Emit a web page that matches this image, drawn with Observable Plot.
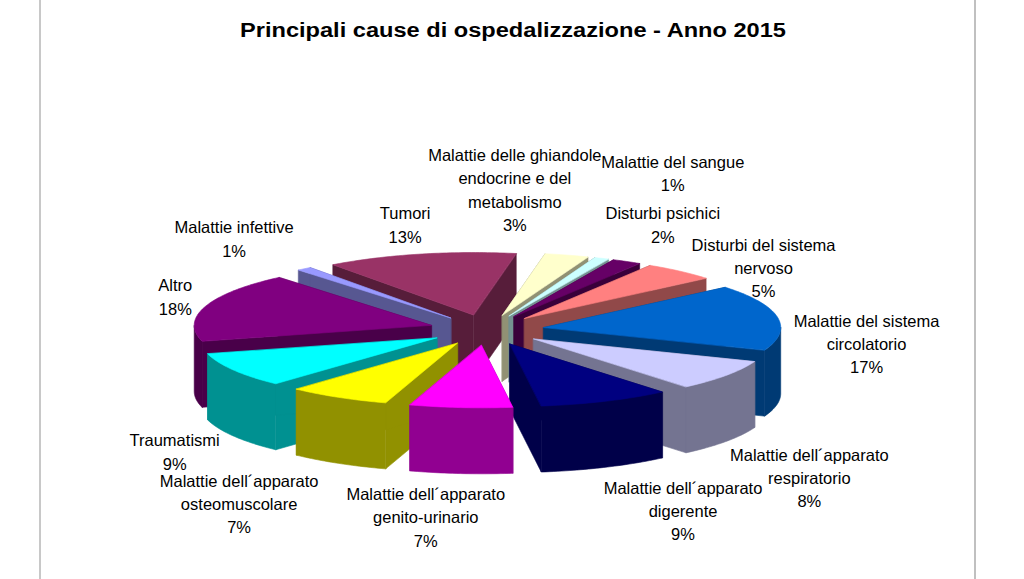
<!DOCTYPE html>
<html><head><meta charset="utf-8">
<script src="https://cdn.jsdelivr.net/npm/d3@7"></script>
<script src="https://cdn.jsdelivr.net/npm/@observablehq/plot@0.6"></script>
<style>
html,body{margin:0;padding:0;background:#fff;}
#wrap{position:relative;width:1024px;height:579px;overflow:hidden;font-family:"Liberation Sans",Arial,sans-serif;}
#frame{position:absolute;left:39px;top:0;width:933px;height:579px;border-left:2px solid #c8c8c8;border-right:2px solid #c0c0c0;box-sizing:content-box;}
#title{position:absolute;left:0;top:20px;width:1026px;text-align:center;font-weight:bold;font-size:20px;line-height:20px;color:#000;transform:scaleX(1.18);transform-origin:513px 0;}
#chart{position:absolute;left:0;top:0;}
</style></head>
<body><div id="wrap"><div id="frame"></div><div id="chart"></div><div id="title">Principali cause di ospedalizzazione - Anno 2015</div></div>
<script>
// ---- data ----
const categories = [
  "Malattie infettive",
  "Tumori",
  "Malattie delle ghiandole\nendocrine e del\nmetabolismo",
  "Malattie del sangue",
  "Disturbi psichici",
  "Disturbi del sistema\nnervoso",
  "Malattie del sistema\ncircolatorio",
  "Malattie dell´apparato\nrespiratorio",
  "Malattie dell´apparato\ndigerente",
  "Malattie dell´apparato\ngenito-urinario",
  "Malattie dell´apparato\nosteomuscolare",
  "Traumatismi",
  "Altro"
];
const values = [1, 13, 3, 1, 2, 5, 17, 8, 9, 7, 7, 9, 18];
const colors = ["#9999FF","#993366","#FFFFCC","#CCFFFF","#660066","#FF8080","#0066CC","#CCCCFF","#000080","#FF00FF","#FFFF00","#00FFFF","#800080"];

// ---- layout ----
const W = 1024, H = 579;
const cx = 486, cy = 329.5, R = 237, explode = 58, tilt = 0.264, depth = 66;
const firstAngle = -40 * Math.PI / 180;
const shade = 0.57;
// label placement relative to each slice's outer edge (pixels)
const labelShift = [[-70,-31.5],[-15,-30.6],[-52,-66.6],[71,-86.3],[36,-38],[83.5,-4.7],[89,25.2],[83,35.2],[77.5,42.2],[-35,42],[-99,39.2],[-59,14.4],[-30,-11]];

const arcs = d3.pie().sort(null).startAngle(firstAngle).endAngle(firstAngle + 2 * Math.PI)(values);
const dark = c => { const r = d3.rgb(c); return d3.rgb(r.r * shade, r.g * shade, r.b * shade).formatHex(); };

const faces = [];
let fid = 0;
function addFace(pts, fill) { const id = fid++; for (const [x, y] of pts) faces.push({id, x, y, fill}); }
function arcPts(tx, ty, a0, a1, drop) {
  const n = Math.max(2, Math.ceil((a1 - a0) / (Math.PI / 180)));
  const out = [];
  for (let j = 0; j <= n; j++) { const a = a0 + (a1 - a0) * j / n; out.push([tx + R * Math.sin(a), ty - R * tilt * Math.cos(a) + drop]); }
  return out;
}
const slices = arcs.map((a, i) => {
  const mid = (a.startAngle + a.endAngle) / 2;
  return {i, a0: a.startAngle, a1: a.endAngle, mid,
    tx: cx + explode * Math.sin(mid), ty: cy - explode * tilt * Math.cos(mid)};
});
const order = slices.slice().sort((p, q) => Math.cos(q.mid) - Math.cos(p.mid));
for (const s of order) {
  const c = colors[s.i], dc = dark(c);
  for (const a of [s.a0, s.a1]) {
    const ox = s.tx + R * Math.sin(a), oy = s.ty - R * tilt * Math.cos(a);
    addFace([[s.tx, s.ty], [ox, oy], [ox, oy + depth], [s.tx, s.ty + depth]], dc);
  }
  const lo = Math.max(s.a0, Math.PI / 2), hi = Math.min(s.a1, 3 * Math.PI / 2);
  if (lo < hi) {
    const top = arcPts(s.tx, s.ty, lo, hi, 0), bot = arcPts(s.tx, s.ty, lo, hi, depth).reverse();
    addFace(top.concat(bot), dc);
  }
  addFace([[s.tx, s.ty]].concat(arcPts(s.tx, s.ty, s.a0, s.a1, 0)), c);
}

const labels = slices.map(s => {
  const front = Math.cos(s.mid) < 0 ? depth : 0;
  const ax = s.tx + R * Math.sin(s.mid), ay = s.ty - R * tilt * Math.cos(s.mid) + front;
  return {x: ax + labelShift[s.i][0], y: ay + labelShift[s.i][1], text: `${categories[s.i]}\n${values[s.i]}%`};
});

const chart = Plot.plot({
  width: W, height: H,
  margin: 0,
  x: {domain: [0, W], range: [0, W], axis: null},
  y: {domain: [0, H], range: [0, H], axis: null},
  color: {type: "identity"},
  style: {background: "transparent", fontFamily: "'Liberation Sans', Arial, sans-serif"},
  marks: [
    Plot.line(faces, {x: "x", y: "y", z: "id", fill: "fill", stroke: "fill", strokeWidth: 0.6, curve: "linear-closed"}),
    Plot.text(labels, {x: "x", y: "y", text: "text", fontSize: 16.5, lineHeight: 1.42, fill: "#000", textAnchor: "middle", lineAnchor: "middle"})
  ]
});
document.getElementById("chart").appendChild(chart);
</script>
</body></html>
